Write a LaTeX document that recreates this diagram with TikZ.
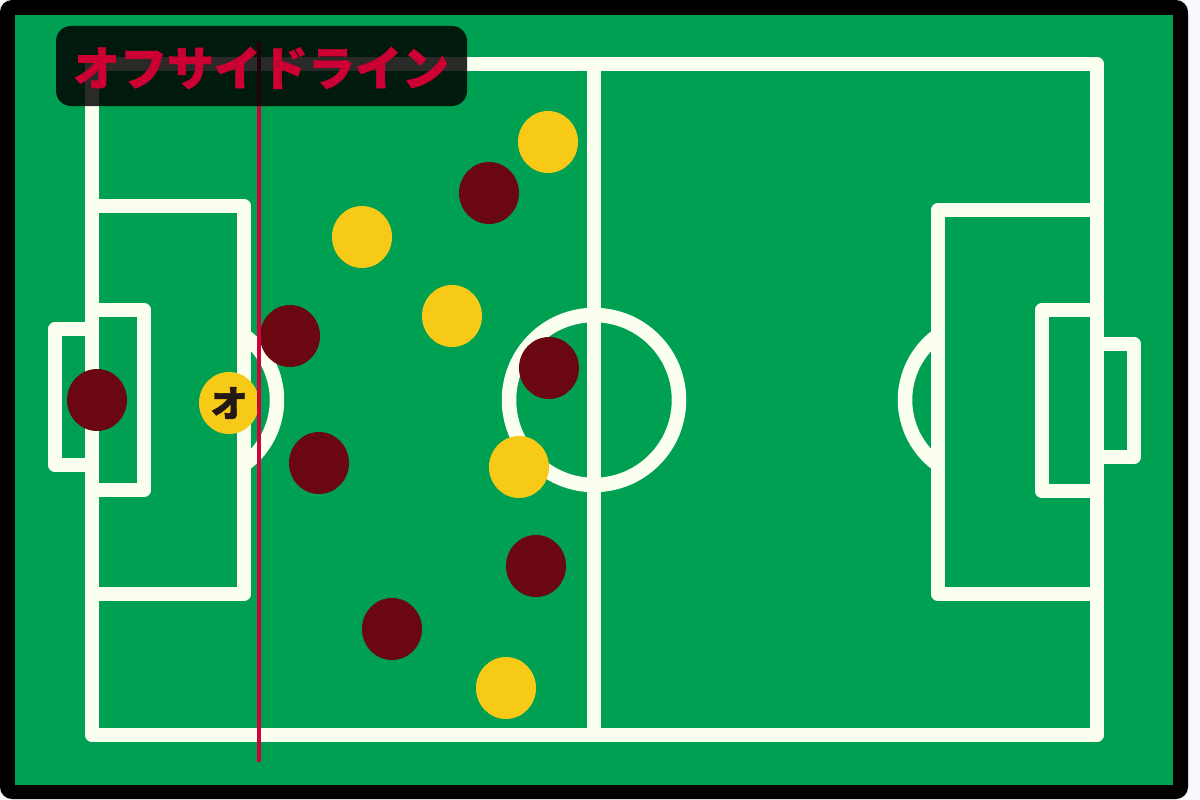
\documentclass[tikz,border=0pt]{standalone}
\usepackage{fontspec}
\newfontfamily\cjk[BoldFeatures={FakeBold=1.2}]{Noto Sans CJK JP}
\usetikzlibrary{shapes.geometric}
\definecolor{pitch}{RGB}{0,160,82}
\definecolor{chalk}{RGB}{250,255,240}
\definecolor{maroon}{RGB}{107,7,16}
\definecolor{gold}{RGB}{247,202,24}
\definecolor{offred}{RGB}{208,2,60}
\definecolor{titlered}{RGB}{204,0,51}
\definecolor{ink}{RGB}{35,24,21}
\definecolor{paper}{RGB}{248,248,254}
\begin{document}
\begin{tikzpicture}[x=1pt,y=-1pt,
  fieldline/.style={draw=chalk,line width=14.5pt,line join=round},
  player/.style={ellipse,minimum width=60pt,minimum height=62pt,inner sep=0pt},
  home/.style={player,fill=maroon},
  away/.style={player,fill=gold}]
\useasboundingbox (0,0) rectangle (1200,800);
\fill[paper] (0,0) rectangle (1200,800);
\fill[black,rounded corners=12pt] (0,0) rectangle (1188,799);
\fill[pitch] (15,15) rectangle (1173,785);
% field lines
\path[fieldline] (92,64) rectangle (1097,735);
\path[fieldline] (594,64) -- (594,735);
\path[fieldline] (594,400) circle[radius=85];
\path[fieldline] (92,206) rectangle (244,594);
\path[fieldline] (92,310) rectangle (144,490);
\path[fieldline] (55,329) rectangle (92,465);
\path[fieldline] (197,400) ++(-54:80) arc[start angle=-54,end angle=54,radius=80];
\path[fieldline] (938,210) rectangle (1097,594);
\path[fieldline] (1042,310) rectangle (1097,491);
\path[fieldline] (1097,344) rectangle (1134,457);
\path[fieldline] (985,400) ++(126:80) arc[start angle=126,end angle=234,radius=80];
% players
\node[home] (h1) at (97,400) {};
\node[home] (h2) at (290,336) {};
\node[home] (h3) at (319,463) {};
\node[home] (h4) at (489,193) {};
\node[home] (h5) at (549,368) {};
\node[home] (h6) at (536,566) {};
\node[home] (h7) at (392,629) {};
\node[away] (a1) at (548,142) {};
\node[away] (a2) at (362,237) {};
\node[away] (a3) at (452,316) {};
\node[away] (a4) at (519,467) {};
\node[away] (a5) at (506,688) {};
\node[away] (a6) at (229,403) {\cjk\bfseries\fontsize{37pt}{37pt}\selectfont\color{ink}オ};
% offside line
\coordinate (ltop) at (259,42);
\coordinate (lbot) at (259,762);
\draw[offred,line width=4pt] (ltop) -- (lbot);
% title
\fill[black,fill opacity=0.83,rounded corners=15pt] (56,26) rectangle (467,106);
\node[text=titlered,inner sep=0pt] (title) at (261,68)
  {\cjk\bfseries\fontsize{47pt}{47pt}\selectfont オフサイドライン};
\end{tikzpicture}
\end{document}
